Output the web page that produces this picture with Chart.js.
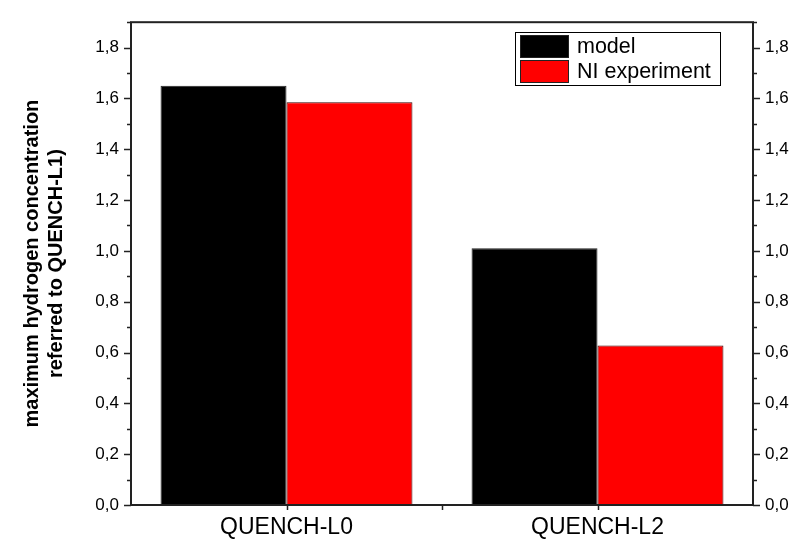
<!DOCTYPE html>
<html>
<head>
<meta charset="utf-8">
<script src="https://cdn.jsdelivr.net/npm/chart.js@4"></script>
<style>
  html, body { margin: 0; padding: 0; background: #fff; }
  #wrap { width: 790px; height: 542px; }
</style>
</head>
<body>
<div id="wrap"><canvas id="grafica"></canvas></div>
<script>
const categorias = ["QUENCH-L0", "QUENCH-L2"];
const modelo = [1.65, 1.01];
const experimento = [1.585, 0.628];
const nombres = ["model", "NI experiment"];
const tituloY = ["maximum hydrogen concentration", "referred to QUENCH-L1)"];

const fuente = "'Liberation Sans', Arial, sans-serif";

const formato = (v) => {
  const r = Math.round(v * 10);
  if (r % 2 !== 0) return "";
  return (r / 10).toFixed(1).replace(".", ",");
};

// marcas de los ejes, marco y leyenda
const marcas = {
  id: "marcas",
  afterDraw(chart) {
    const ctx = chart.ctx;
    const a = chart.chartArea;
    const y = chart.scales.y;
    const x = chart.scales.x;
    ctx.save();
    ctx.strokeStyle = "#222";
    ctx.lineWidth = 1.5;
    for (let i = 0; i <= 19; i++) {
      const py = Math.round(y.getPixelForValue(i / 10)) + 0.5;
      const len = i % 2 === 0 ? 7 : 4;
      ctx.beginPath();
      ctx.moveTo(a.left - len, py); ctx.lineTo(a.left, py);
      ctx.moveTo(a.right, py); ctx.lineTo(a.right + len, py);
      ctx.stroke();
    }
    const cols = [];
    for (let i = 0; i < categorias.length; i++) cols.push(x.getPixelForTick(i));
    cols.push((cols[0] + cols[1]) / 2);
    cols.forEach(px => {
      ctx.beginPath();
      ctx.moveTo(Math.round(px) + 0.5, a.bottom);
      ctx.lineTo(Math.round(px) + 0.5, a.bottom + 5);
      ctx.stroke();
    });
    ctx.lineWidth = 2;
    ctx.strokeRect(a.left, a.top, a.right - a.left, a.bottom - a.top);

    // leyenda
    const lx = 515, ly = 32, lw = 205, lh = 53;
    ctx.fillStyle = "#fff";
    ctx.fillRect(lx, ly, lw, lh);
    ctx.lineWidth = 1;
    ctx.strokeStyle = "#000";
    ctx.strokeRect(lx + 0.5, ly + 0.5, lw, lh);
    ctx.font = "21.5px " + fuente;
    ctx.textBaseline = "middle";
    chart.data.datasets.forEach((ds, i) => {
      const sy = ly + 3 + i * 25;
      ctx.fillStyle = ds.backgroundColor;
      ctx.fillRect(lx + 5, sy, 49, 23);
      ctx.strokeStyle = "#222";
      ctx.strokeRect(lx + 5.5, sy + 0.5, 48, 22);
      ctx.fillStyle = "#000";
      ctx.fillText(ds.label, lx + 62, sy + 12);
    });
    ctx.restore();
  }
};

new Chart(document.getElementById("grafica"), {
  type: "bar",
  data: {
    labels: categorias,
    datasets: [{
      label: nombres[0],
      data: modelo,
      backgroundColor: "#000000",
      borderColor: "#222222",
      borderWidth: 1
    }, {
      label: nombres[1],
      data: experimento,
      backgroundColor: "#ff0000",
      borderColor: "#3a0000",
      borderWidth: 1
    }]
  },
  options: {
    responsive: true,
    maintainAspectRatio: false,
    animation: false,
    categoryPercentage: 0.81,
    barPercentage: 1.0,
    layout: { padding: { top: 9, left: 0, right: 0, bottom: 0 } },
    plugins: {
      legend: { display: false },
      tooltip: { enabled: false }
    },
    scales: {
      x: {
        grid: { display: false, drawTicks: false },
        border: { display: false },
        ticks: { color: "#000", font: { family: fuente, size: 23 }, padding: 9 },
        afterFit(s) { s.height = 37; }
      },
      y: {
        min: 0,
        max: 1.9,
        position: "left",
        grid: { display: false, drawTicks: false },
        border: { display: false },
        ticks: { stepSize: 0.1, autoSkip: false, color: "#000", padding: 12,
                 font: { family: fuente, size: 17 }, callback: formato },
        title: { display: true, text: tituloY, color: "#000",
                 font: { family: fuente, size: 20, weight: "bold" },
                 padding: { top: 20, bottom: 0 } },
        afterFit(s) { s.width = 131; }
      },
      y2: {
        min: 0,
        max: 1.9,
        position: "right",
        grid: { display: false, drawTicks: false },
        border: { display: false },
        ticks: { stepSize: 0.1, autoSkip: false, color: "#000", padding: 12,
                 font: { family: fuente, size: 17 }, callback: formato },
        afterFit(s) { s.width = 37; }
      }
    }
  },
  plugins: [marcas]
});
</script>
</body>
</html>
